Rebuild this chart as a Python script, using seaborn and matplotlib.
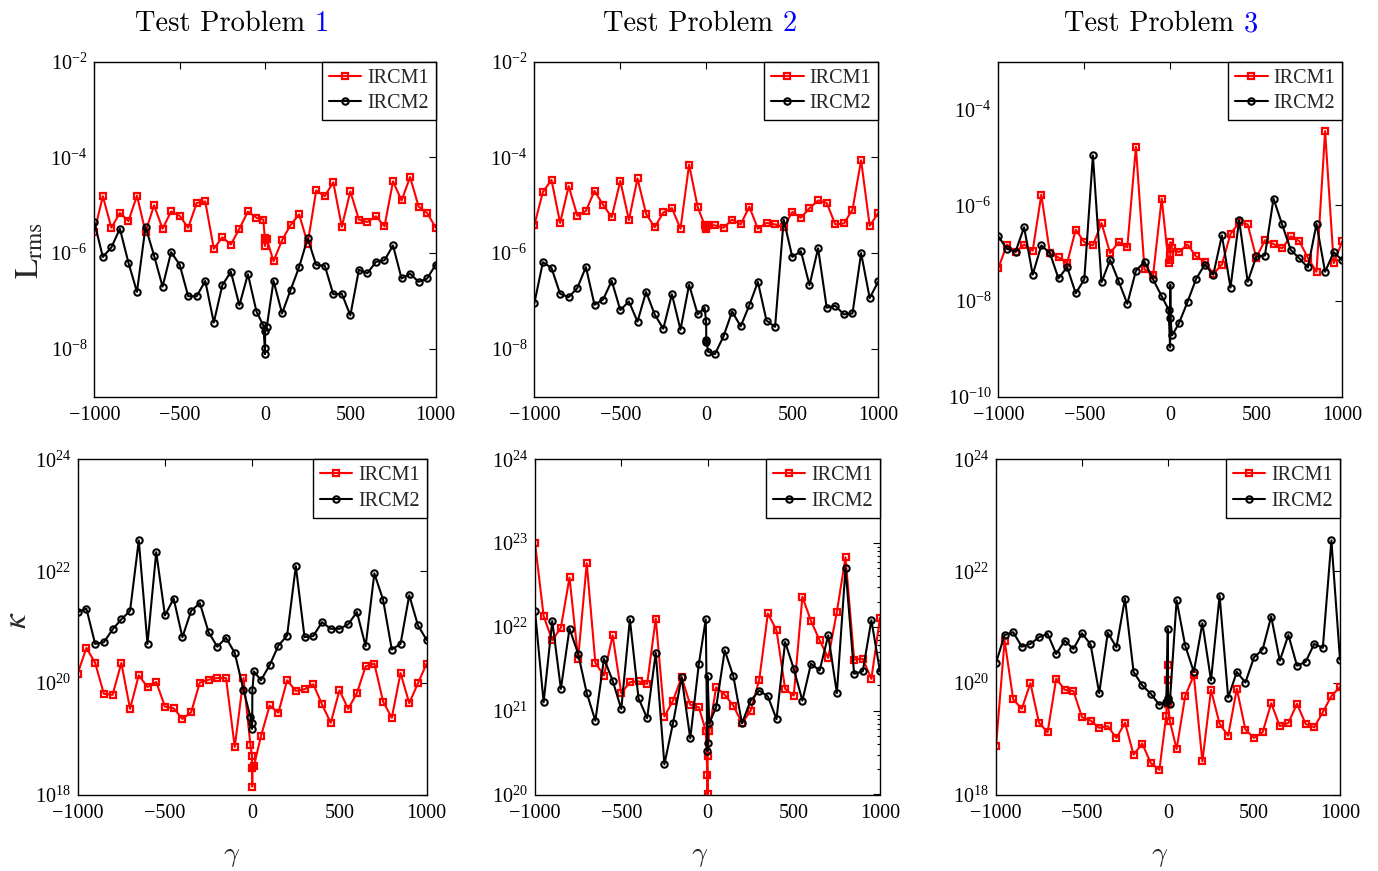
import numpy as np
import pandas as pd
import matplotlib
matplotlib.use("Agg")
import matplotlib.pyplot as plt
import seaborn as sns
from matplotlib.ticker import FixedLocator, LogFormatterMathtext, NullLocator, LogLocator

# ---------------- data (values given as log10 of the quantity) ----------------
gamma = [-1000, -950, -900, -850, -800, -750, -700, -650, -600, -550,
         -500, -450, -400, -350, -300, -250, -200, -150, -100, -50,
         -10, -1, 0, 1, 10,
         50, 100, 150, 200, 250, 300, 350, 400, 450, 500,
         550, 600, 650, 700, 750, 800, 850, 900, 950, 1000]

lrms_p1_ircm1 = [-5.56, -4.81, -5.47, -5.16, -5.33, -4.80, -5.56, -5.00, -5.49, -5.13,
                 -5.22, -5.47, -4.95, -4.92, -5.91, -5.67, -5.82, -5.49, -5.13, -5.26,
                 -5.30, -5.68, -5.85, -5.73, -5.70,
                 -6.17, -5.73, -5.41, -5.19, -5.80, -4.69, -4.81, -4.52, -5.45, -4.71,
                 -5.30, -5.35, -5.23, -5.44, -4.50, -4.90, -4.41, -5.03, -5.16, -5.47]
lrms_p1_ircm2 = [-5.35, -6.08, -5.88, -5.49, -6.20, -6.81, -5.45, -6.05, -6.70, -5.98,
                 -6.24, -6.90, -6.90, -6.58, -7.45, -6.67, -6.39, -7.09, -6.44, -7.22,
                 -7.51, -7.99, -8.11, -7.63, -7.55,
                 -6.58, -7.26, -6.77, -6.29, -5.69, -6.25, -6.26, -6.86, -6.85, -7.30,
                 -6.35, -6.42, -6.18, -6.15, -5.84, -6.53, -6.43, -6.60, -6.53, -6.24]

lrms_p2_ircm1 = [-5.42, -4.72, -4.47, -5.37, -4.60, -5.22, -5.12, -4.70, -4.99, -5.25,
                 -4.49, -5.31, -4.44, -5.18, -5.46, -5.15, -5.06, -5.49, -4.15, -5.04,
                 -5.41, -5.46, -5.49, -5.46, -5.41,
                 -5.42, -5.47, -5.30, -5.40, -5.03, -5.49, -5.37, -5.40, -5.46, -5.14,
                 -5.26, -5.06, -4.90, -4.95, -5.40, -5.38, -5.09, -4.06, -5.43, -5.16]
lrms_p2_ircm2 = [-7.05, -6.19, -6.31, -6.85, -6.92, -6.73, -6.29, -7.08, -6.97, -6.58,
                 -7.19, -7.01, -7.43, -6.81, -7.28, -7.58, -6.86, -7.60, -6.66, -7.28,
                 -7.14, -7.42, -7.85, -7.81, -8.06,
                 -8.11, -7.74, -7.22, -7.53, -7.09, -6.60, -7.41, -7.54, -5.30, -6.08,
                 -5.96, -6.67, -5.90, -7.14, -7.10, -7.28, -7.26, -6.00, -6.94, -6.59]

lrms_p3_ircm1 = [-7.32, -6.82, -6.98, -6.82, -6.95, -5.78, -7.00, -7.09, -7.21, -6.51,
                 -6.77, -6.84, -6.37, -7.00, -6.77, -6.88, -4.78, -7.34, -7.46, -5.86,
                 -7.21, -7.14, -7.03, -6.77, -6.90,
                 -6.98, -6.82, -7.07, -7.18, -7.43, -7.24, -6.60, -6.36, -6.40, -7.10,
                 -6.73, -6.81, -6.90, -6.65, -6.75, -7.10, -7.39, -4.45, -7.21, -6.75]
lrms_p3_ircm2 = [-6.65, -6.91, -6.97, -6.46, -7.45, -6.84, -7.00, -7.53, -7.29, -7.84,
                 -7.55, -4.96, -7.61, -7.14, -7.59, -8.06, -7.37, -7.18, -7.55, -7.90,
                 -8.18, -8.97, -7.66, -8.36, -8.72,
                 -8.47, -8.02, -7.54, -7.24, -7.45, -6.63, -7.72, -6.31, -7.60, -7.07,
                 -7.05, -5.86, -6.40, -6.93, -7.11, -7.30, -6.39, -7.39, -6.98, -7.15]

kappa_p1_ircm1 = [20.17, 20.63, 20.36, 19.81, 19.79, 20.36, 19.54, 20.14, 19.93, 20.02,
                  19.58, 19.55, 19.36, 19.48, 20.01, 20.06, 20.09, 20.09, 18.86, 20.09,
                  18.89, 18.69, 18.15, 18.48, 18.52,
                  19.05, 19.60, 19.47, 20.05, 19.86, 19.89, 19.98, 19.62, 19.29, 19.87,
                  19.54, 19.82, 20.30, 20.35, 19.67, 19.38, 20.18, 19.64, 20.00, 20.35]
kappa_p1_ircm2 = [21.27, 21.33, 20.70, 20.73, 20.96, 21.14, 21.29, 22.55, 20.70, 22.34,
                  21.21, 21.51, 20.82, 21.29, 21.43, 20.91, 20.65, 20.81, 20.54, 19.88,
                  19.39, 19.18, 19.29, 19.87, 20.21,
                  20.05, 20.32, 20.67, 20.85, 22.09, 20.82, 20.84, 21.09, 20.97, 20.97,
                  21.05, 21.27, 20.66, 21.96, 21.49, 20.60, 20.70, 21.57, 21.03, 20.77]

kappa_p2_ircm1 = [23.00, 22.13, 21.84, 21.99, 22.59, 21.62, 22.76, 21.57, 21.42, 21.90,
                  21.21, 21.34, 21.35, 21.32, 22.10, 20.93, 21.12, 21.40, 21.07, 21.04,
                  20.76, 20.23, 20.00, 20.46, 20.76,
                  21.28, 21.19, 21.06, 20.85, 21.00, 21.37, 22.16, 21.96, 21.26, 21.18,
                  22.36, 22.07, 21.84, 21.63, 22.18, 22.83, 21.61, 21.62, 21.38, 22.11]
kappa_p2_ircm2 = [22.19, 21.10, 22.07, 21.26, 21.98, 21.68, 21.21, 20.88, 21.62, 21.36,
                  21.02, 22.09, 21.15, 20.91, 21.69, 20.36, 20.85, 21.40, 20.67, 21.56,
                  22.09, 20.52, 20.61, 21.41, 20.85,
                  21.04, 21.72, 21.41, 20.85, 21.12, 21.24, 21.17, 20.90, 21.82, 21.50,
                  21.12, 21.56, 21.48, 21.90, 21.21, 22.70, 21.44, 21.47, 22.08, 21.47]

kappa_p3_ircm1 = [18.87, 20.76, 19.71, 19.54, 20.00, 19.29, 19.12, 20.08, 19.88, 19.86,
                  19.39, 19.33, 19.20, 19.23, 19.02, 19.29, 18.72, 18.92, 18.57, 18.45,
                  19.42, 20.32, 20.05, 19.62, 19.33,
                  18.82, 19.77, 20.14, 18.60, 19.88, 19.27, 19.06, 19.90, 19.17, 19.02,
                  19.12, 19.64, 19.23, 19.29, 19.63, 19.27, 19.21, 19.48, 19.77, 19.93]
kappa_p3_ircm2 = [20.36, 20.86, 20.91, 20.65, 20.70, 20.82, 20.88, 20.52, 20.76, 20.61,
                  20.89, 20.69, 19.82, 20.90, 20.64, 21.51, 20.20, 19.96, 19.81, 19.61,
                  19.66, 20.97, 19.74, 19.70, 19.62,
                  21.48, 20.67, 20.20, 21.07, 20.05, 21.56, 19.74, 20.20, 20.01, 20.46,
                  20.60, 21.19, 20.40, 20.86, 20.31, 20.38, 20.70, 20.63, 22.55, 20.42]

series_names = ["IRCM1", "IRCM2"]
problem_numbers = ["1", "2", "3"]
x_ticks = [-1000, -500, 0, 500, 1000]

# ---------------- style ----------------
sns.set_theme(style="white")
plt.rcParams["font.family"] = ["Liberation Serif", "DejaVu Serif"]
plt.rcParams["mathtext.fontset"] = "stix"
plt.rcParams["axes.unicode_minus"] = True

W, H = 1378, 871
fig = plt.figure(figsize=(W / 100, H / 100), dpi=100)


def rect(l, r, t, b):
    return [l / W, 1 - b / H, (r - l) / W, (b - t) / H]


panels = [
    (rect(94.3, 435.7, 61.7, 396.7), lrms_p1_ircm1, lrms_p1_ircm2, (-9, -2), [-8, -6, -4, -2], False),
    (rect(534.3, 878.3, 61.7, 396.7), lrms_p2_ircm1, lrms_p2_ircm2, (-9, -2), [-8, -6, -4, -2], False),
    (rect(998.3, 1342.3, 61.7, 396.7), lrms_p3_ircm1, lrms_p3_ircm2, (-10, -3), [-10, -8, -6, -4], False),
    (rect(77.7, 426.7, 459.3, 795.0), kappa_p1_ircm1, kappa_p1_ircm2, (18, 24), [18, 20, 22, 24], False),
    (rect(535.0, 880.0, 459.3, 794.5), kappa_p2_ircm1, kappa_p2_ircm2, (20, 24), [20, 21, 22, 23, 24], True),
    (rect(996.0, 1340.0, 459.3, 795.0), kappa_p3_ircm1, kappa_p3_ircm2, (18, 24), [18, 20, 22, 24], False),
]

for rc, s1, s2, ylim, yt, minor in panels:
    ax = fig.add_axes(rc)
    df = pd.DataFrame({"gamma": gamma,
                       "IRCM1": 10.0 ** np.array(s1),
                       "IRCM2": 10.0 ** np.array(s2)})
    sns.lineplot(data=df, x="gamma", y="IRCM1", ax=ax, color="red", lw=1.5,
                 marker="s", markersize=5, markerfacecolor="none",
                 markeredgecolor="red", markeredgewidth=1.6,
                 sort=False, estimator=None, label=series_names[0])
    sns.lineplot(data=df, x="gamma", y="IRCM2", ax=ax, color="black", lw=1.5,
                 marker="o", markersize=4.6, markerfacecolor="none",
                 markeredgecolor="black", markeredgewidth=1.5,
                 sort=False, estimator=None, label=series_names[1])
    ax.set_yscale("log")
    ax.set_xlim(-1000, 1000)
    ax.set_ylim(10.0 ** ylim[0], 10.0 ** ylim[1])
    ax.xaxis.set_major_locator(FixedLocator(x_ticks))
    ax.yaxis.set_major_locator(FixedLocator([10.0 ** e for e in yt]))
    ax.yaxis.set_major_formatter(LogFormatterMathtext())
    if minor:
        ax.yaxis.set_minor_locator(LogLocator(base=10, subs=np.arange(2, 10)))
    else:
        ax.yaxis.set_minor_locator(NullLocator())
    ax.xaxis.set_minor_locator(NullLocator())
    ax.set_xlabel("")
    ax.set_ylabel("")
    ax.tick_params(which="both", direction="in", top=True, right=True,
                   labelsize=14.5, colors="black", width=0.8)
    ax.tick_params(which="major", length=5)
    ax.tick_params(axis="x", which="major", pad=6.5)
    ax.tick_params(axis="y", which="major", pad=5)
    ax.tick_params(which="minor", length=2.5)
    for sp in ax.spines.values():
        sp.set_color("black")
        sp.set_linewidth(1.0)
    leg = ax.legend(loc="upper right", borderaxespad=0, fancybox=False,
                    edgecolor="black", framealpha=1, fontsize=14.5,
                    handlelength=1.6, handletextpad=0.3, borderpad=0.35,
                    labelspacing=0.3)
    leg.get_frame().set_linewidth(1.0)

# ---------------- titles (black text with blue number) ----------------
fig.canvas.draw()
renderer = fig.canvas.get_renderer()
title_centers = [232, 700, 1161]
title_base = 1 - 31 / H
for cx, num in zip(title_centers, problem_numbers):
    t1 = fig.text(0, title_base, "Test Problem", family="cmr10", fontsize=20.5,
                  color="black", va="baseline", ha="left")
    t2 = fig.text(0, title_base, num, family="cmr10", fontsize=20.5,
                  color="blue", va="baseline", ha="left")
    w1 = t1.get_window_extent(renderer).width
    w2 = t2.get_window_extent(renderer).width
    gap = 10
    start = cx - (w1 + gap + w2) / 2
    t1.set_x(start / W)
    t2.set_x((start + w1 + gap) / W)

# ---------------- axis labels ----------------
fig.text(30 / W, 1 - 250 / H, r"$\mathrm{L}_{\mathrm{rms}}$", fontsize=24,
         rotation=90, ha="center", va="center")
fig.text(18 / W, 1 - 620 / H, r"$\kappa$", fontsize=24,
         rotation=90, ha="center", va="center")
for cx in [232, 700, 1160]:
    fig.text(cx / W, 1 - 856 / H, r"$\gamma$", fontsize=20, math_fontfamily="cm",
             ha="center", va="center")

fig.savefig("out.png", dpi=100)
